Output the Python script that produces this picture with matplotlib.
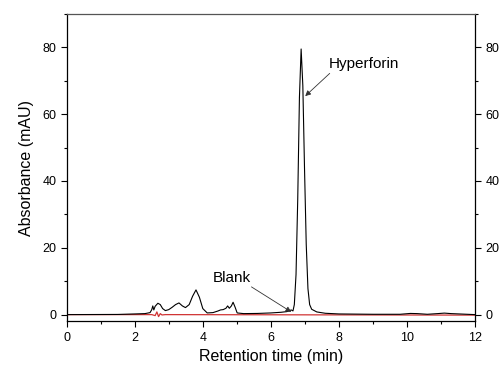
import matplotlib
matplotlib.use("Agg")
import matplotlib.pyplot as plt
from matplotlib.ticker import MultipleLocator

plt.rcParams['font.family'] = ['Liberation Sans', 'DejaVu Sans']

# Sample chromatogram (black)
t_sample = [0, 1.5, 2.0, 2.3, 2.45, 2.5, 2.53, 2.56, 2.6, 2.68, 2.75, 2.82, 2.9,
            3.0, 3.1, 3.2, 3.3, 3.4, 3.49, 3.6, 3.7, 3.8, 3.9, 4.0, 4.13, 4.3,
            4.45, 4.52, 4.6, 4.68, 4.73, 4.78, 4.84, 4.89, 4.95, 5.01, 5.2, 5.6,
            6.0, 6.3, 6.47, 6.55, 6.6, 6.65, 6.69, 6.74, 6.79, 6.84, 6.89, 6.94,
            6.99, 7.04, 7.09, 7.14, 7.2, 7.35, 7.6, 8.0, 9.0, 9.8, 10.1, 10.3,
            10.6, 10.9, 11.1, 11.3, 12]
a_sample = [0, 0.05, 0.2, 0.3, 0.6, 1.5, 2.6, 1.4, 2.5, 3.4, 3.0, 1.8, 1.2,
            1.5, 2.2, 3.0, 3.5, 2.6, 2.1, 3.0, 5.5, 7.4, 5.2, 1.8, 0.5, 0.6,
            1.1, 1.4, 1.5, 1.9, 2.6, 1.9, 2.6, 3.7, 2.2, 0.5, 0.3, 0.35,
            0.5, 0.7, 0.9, 1.2, 1.4, 1.1, 3.0, 12.0, 34.5, 65.0, 79.5, 68.5,
            43.5, 21.0, 7.8, 3.0, 1.6, 0.8, 0.4, 0.2, 0.1, 0.1, 0.35, 0.3,
            0.1, 0.3, 0.45, 0.3, 0]

# Blank chromatogram (red)
t_blank = [0, 2.5, 2.6, 2.65, 2.7, 2.75, 2.8, 2.9, 6.0, 9.0, 12]
a_blank = [0, 0, -0.3, 0.8, -0.6, 0.3, -0.1, 0, -0.05, -0.1, -0.15]

x_ticks = [0, 2, 4, 6, 8, 10, 12]
y_ticks = [0, 20, 40, 60, 80]

fig = plt.figure(figsize=(5.0, 3.72), dpi=100)
ax = fig.add_axes([0.1334, 0.1363, 0.8166, 0.8263])

ax.plot(t_sample, a_sample, color='black', lw=0.8, zorder=3)
ax.plot(t_blank, a_blank, color='#d03434', lw=0.9, zorder=2)

ax.set_xlim(0, 12)
ax.set_ylim(-2, 90)
ax.set_xticks(x_ticks)
ax.set_yticks(y_ticks)
ax.xaxis.set_minor_locator(MultipleLocator(1))
ax.yaxis.set_minor_locator(MultipleLocator(10))
ax.tick_params(axis='both', which='major', direction='out', length=4, width=0.8,
               labelsize=9, colors='black')
ax.tick_params(axis='both', which='minor', direction='out', length=2.5, width=0.8)
ax.tick_params(axis='y', which='both', left=True, right=True,
               labelleft=True, labelright=True)
ax.tick_params(axis='x', which='both', top=False, bottom=True)
for s in ax.spines.values():
    s.set_linewidth(0.9)
ax.spines['top'].set_color('#555555')

ax.set_xlabel('Retention time (min)', fontsize=11.5, labelpad=4)
ax.set_ylabel('Absorbance (mAU)', fontsize=11.5, labelpad=6)

arrow = dict(arrowstyle='-|>', lw=0.6, color='#333333', mutation_scale=8,
             shrinkA=0, shrinkB=0)
ax.annotate('', xy=(7.01, 65.4), xytext=(7.73, 72.2), arrowprops=arrow)
ax.text(7.71, 73.9, 'Hyperforin', fontsize=11, va='baseline', ha='left')
ax.annotate('', xy=(6.60, 0.8), xytext=(5.43, 8.3), arrowprops=arrow)
ax.text(4.28, 9.8, 'Blank', fontsize=11, va='baseline', ha='left')

fig.savefig('out.png', dpi=100)
